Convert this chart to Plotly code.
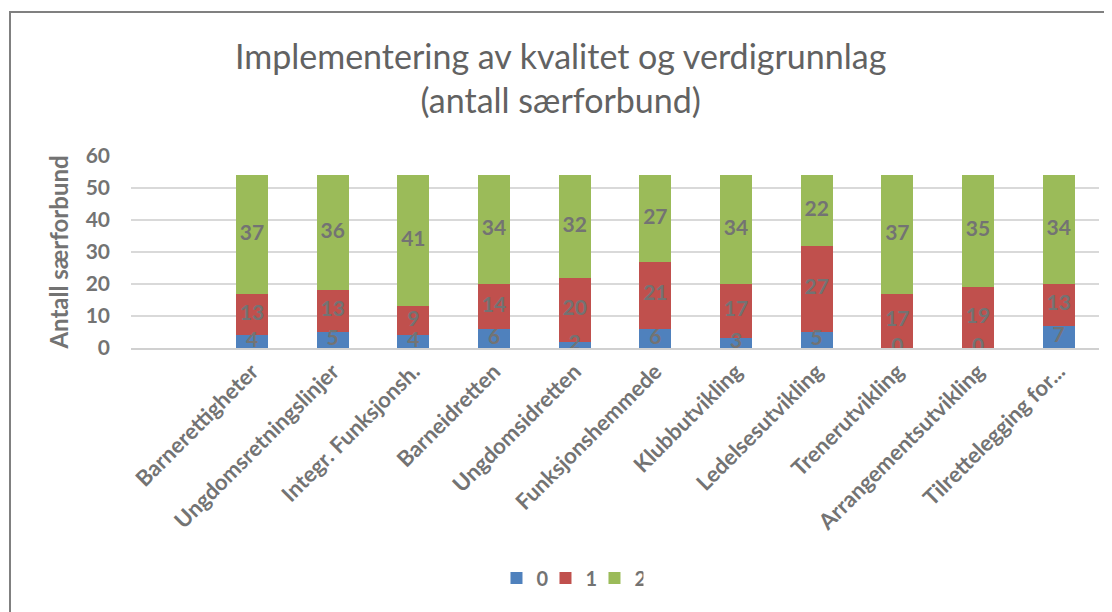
import plotly.graph_objects as go

categories = ["Barnerettigheter", "Ungdomsretningslinjer", "Integr. Funksjonsh.",
              "Barneidretten", "Ungdomsidretten", "Funksjonshemmede", "Klubbutvikling",
              "Ledelsesutvikling", "Trenerutvikling", "Arrangementsutvikling",
              "Tilrettelegging for..."]
level_0 = [4, 5, 4, 6, 2, 6, 3, 5, 0, 0, 7]
level_1 = [13, 13, 9, 14, 20, 21, 17, 27, 17, 19, 13]
level_2 = [37, 36, 41, 34, 32, 27, 34, 22, 37, 35, 34]

series = [("0", level_0, "#4f81bd"), ("1", level_1, "#c0504d"), ("2", level_2, "#9bbb59")]
label_color = "#737373"
font_family = "Lato, 'Open Sans', sans-serif"

fig = go.Figure()

# stacked bars
for name, vals, color in series:
    fig.add_trace(go.Bar(x=categories, y=vals, name=name, width=0.4,
                         marker=dict(color=color, line=dict(width=0))))

# data labels in the middle of each segment
base = [0] * len(categories)
for name, vals, color in series:
    mids = [b + v / 2 for b, v in zip(base, vals)]
    fig.add_trace(go.Scatter(x=categories, y=mids, mode="text", text=[str(v) for v in vals],
                             textfont=dict(size=21, color=label_color, family=font_family,
                                           weight="bold"),
                             showlegend=False, hoverinfo="skip"))
    base = [b + v for b, v in zip(base, vals)]

fig.update_layout(
    width=1112, height=612,
    margin=dict(l=123, r=21, t=148, b=272, autoexpand=False),
    plot_bgcolor="white", paper_bgcolor="white",
    barmode="stack",
    font=dict(family=font_family, color=label_color),
    title=dict(text="Implementering av kvalitet og verdigrunnlag<br>(antall særforbund)",
               x=0.497, xref="container", xanchor="center",
               y=0.9, yref="container", yanchor="top",
               font=dict(size=34, color="#626262", family=font_family)),
    legend=dict(orientation="h", x=0.4535, xanchor="center", y=-1.198, yanchor="middle",
                font=dict(size=20, color=label_color, family=font_family, weight="bold"),
                itemwidth=30, entrywidth=4, traceorder="normal"),
    xaxis=dict(type="category", categoryorder="array", categoryarray=categories,
               range=[-1.5, 10.5], tickangle=-45, showgrid=False,
               tickfont=dict(size=22, color=label_color, weight="bold"),
               showline=True, linecolor="#d0d0d0", linewidth=2, ticks=""),
    yaxis=dict(range=[0, 60], dtick=10, showgrid=True, gridcolor="#d9d9d9", gridwidth=2,
               zeroline=False, ticks="", ticklabelstandoff=20,
               tickfont=dict(size=21, color=label_color, weight="bold"),
               title=dict(text="Antall særforbund", standoff=10,
                          font=dict(size=24, color=label_color, weight="bold"))),
    shapes=[dict(type="rect", xref="paper", yref="paper",
                 x0=-0.125, x1=1.03, y0=-1.45, y1=1.75,
                 line=dict(color="#808080", width=2), fillcolor="rgba(0,0,0,0)",
                 layer="below")],
)

fig.write_html("out.html")
